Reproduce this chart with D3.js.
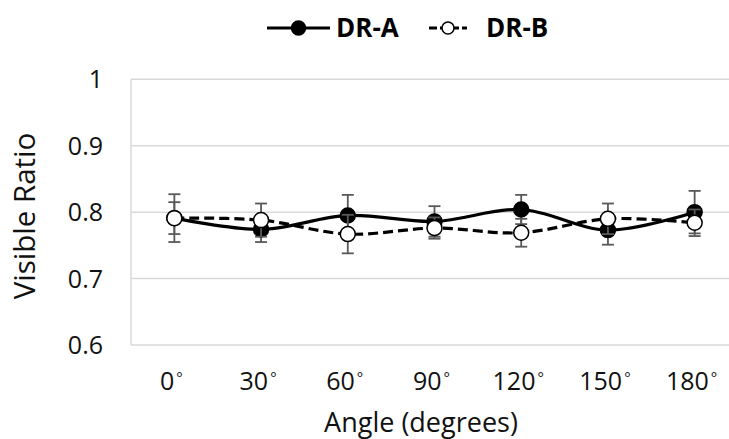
<!DOCTYPE html>
<html>
<head>
  <meta charset="utf-8">
  <script src="https://d3js.org/d3.v7.min.js"></script>
  <style>
    body { margin: 0; background: #fff; }
    svg { display: block; font-family: "Open Sans", sans-serif; }
  </style>
</head>
<body>
  <div id="chart"></div>
  <script>
    // values
    var angles = ["0", "30", "60", "90", "120", "150", "180"]
    var drA = [0.791, 0.774, 0.795, 0.786, 0.804, 0.773, 0.800]
    var drAErr = [0.036, 0.019, 0.031, 0.023, 0.022, 0.022, 0.032]
    var drB = [0.791, 0.788, 0.767, 0.776, 0.769, 0.790, 0.784]
    var drBErr = [0.024, 0.025, 0.029, 0.016, 0.021, 0.023, 0.020]
    var yTicks = [0.6, 0.7, 0.8, 0.9, 1]

    var width = 729, height = 439
    var plot = {left: 131, right: 738, top: 79.3, bottom: 345}

    var svg = d3.select("#chart").append("svg")
      .attr("width", width)
      .attr("height", height)

    var x = d3.scaleBand()
      .domain(angles)
      .range([plot.left, plot.right])

    var y = d3.scaleLinear()
      .domain([0.6, 1])
      .range([plot.bottom, plot.top])

    var cx = function(a) { return x(a) + x.bandwidth() / 2 }

    // gridlines
    svg.append("g")
      .selectAll("line")
      .data(yTicks)
      .enter().append("line")
      .attr("x1", plot.left).attr("x2", plot.right)
      .attr("y1", function(d) { return y(d) })
      .attr("y2", function(d) { return y(d) })
      .attr("stroke", "#d9d9d9")
      .attr("stroke-width", 1.5)

    // left border of plot area
    svg.append("line")
      .attr("x1", plot.left).attr("x2", plot.left)
      .attr("y1", plot.top).attr("y2", plot.bottom)
      .attr("stroke", "#d9d9d9")
      .attr("stroke-width", 1.5)

    // y tick labels
    svg.append("g")
      .selectAll("text")
      .data(yTicks)
      .enter().append("text")
      .attr("x", 103)
      .attr("y", function(d) { return y(d) })
      .attr("dy", "0.36em")
      .attr("text-anchor", "end")
      .attr("font-size", 25)
      .attr("fill", "#111")
      .text(function(d) { return d === 1 ? "1" : d.toFixed(1) })

    // x tick labels with a small degree sign
    var xl = svg.append("g")
      .selectAll("text")
      .data(angles)
      .enter().append("text")
      .attr("x", function(d) { return cx(d) - 3 })
      .attr("y", 390)
      .attr("text-anchor", "middle")
      .attr("font-size", 25)
      .attr("fill", "#111")
    xl.append("tspan").text(function(d) { return d })
    xl.append("tspan")
      .attr("font-size", 15)
      .attr("dy", -7)
      .attr("dx", 2)
      .text("°")

    // axis titles
    svg.append("text")
      .attr("transform", "translate(35,216) rotate(-90)")
      .attr("text-anchor", "middle")
      .attr("font-size", 29.5)
      .attr("fill", "#111")
      .text("Visible Ratio")

    svg.append("text")
      .attr("x", 421)
      .attr("y", 432)
      .attr("text-anchor", "middle")
      .attr("font-size", 27)
      .attr("fill", "#111")
      .text("Angle (degrees)")

    var series = [
      {name: "DR-A", values: drA, err: drAErr, fill: "#000", dash: null},
      {name: "DR-B", values: drB, err: drBErr, fill: "#fff", dash: "10,5"}
    ]

    var line = d3.line()
      .x(function(d, i) { return cx(angles[i]) })
      .y(function(d) { return y(d) })
      .curve(d3.curveCardinal.tension(0))

    series.forEach(function(s) {
      var g = svg.append("g")
      var eb = g.append("g")
        .attr("stroke", "#595959")
        .attr("stroke-width", 1.8)
        .selectAll("g")
        .data(s.values)
        .enter().append("g")
      eb.append("line")
        .attr("x1", function(d, i) { return cx(angles[i]) })
        .attr("x2", function(d, i) { return cx(angles[i]) })
        .attr("y1", function(d, i) { return y(d + s.err[i]) })
        .attr("y2", function(d, i) { return y(d - s.err[i]) })
      eb.append("line")
        .attr("x1", function(d, i) { return cx(angles[i]) - 6 })
        .attr("x2", function(d, i) { return cx(angles[i]) + 6 })
        .attr("y1", function(d, i) { return y(d + s.err[i]) })
        .attr("y2", function(d, i) { return y(d + s.err[i]) })
      eb.append("line")
        .attr("x1", function(d, i) { return cx(angles[i]) - 6 })
        .attr("x2", function(d, i) { return cx(angles[i]) + 6 })
        .attr("y1", function(d, i) { return y(d - s.err[i]) })
        .attr("y2", function(d, i) { return y(d - s.err[i]) })

      g.append("path")
        .datum(s.values)
        .attr("d", line)
        .attr("fill", "none")
        .attr("stroke", "#000")
        .attr("stroke-width", 3.2)
        .attr("stroke-dasharray", s.dash)

      g.selectAll("circle")
        .data(s.values)
        .enter().append("circle")
        .attr("cx", function(d, i) { return cx(angles[i]) })
        .attr("cy", function(d) { return y(d) })
        .attr("r", 7.5)
        .attr("fill", s.fill)
        .attr("stroke", "#000")
        .attr("stroke-width", 1.5)
    })

    // legend
    var legendPos = [
      {x1: 267, x2: 330, tx: 336},
      {x1: 429, x2: 467, tx: 486}
    ]
    series.forEach(function(s, i) {
      var p = legendPos[i]
      var lg = svg.append("g")
      lg.append("line")
        .attr("x1", p.x1).attr("x2", p.x2)
        .attr("y1", 28).attr("y2", 28)
        .attr("stroke", "#000")
        .attr("stroke-width", 3.2)
        .attr("stroke-dasharray", s.dash ? "8,3" : null)
      lg.append("circle")
        .attr("cx", (p.x1 + p.x2) / 2)
        .attr("cy", 28)
        .attr("r", i === 0 ? 7 : 6)
        .attr("fill", s.fill)
        .attr("stroke", "#000")
        .attr("stroke-width", 1.5)
      lg.append("text")
        .attr("x", p.tx)
        .attr("y", 37)
        .attr("font-size", 26)
        .attr("font-weight", "bold")
        .attr("fill", "#000")
        .text(s.name)
    })
  </script>
</body>
</html>
